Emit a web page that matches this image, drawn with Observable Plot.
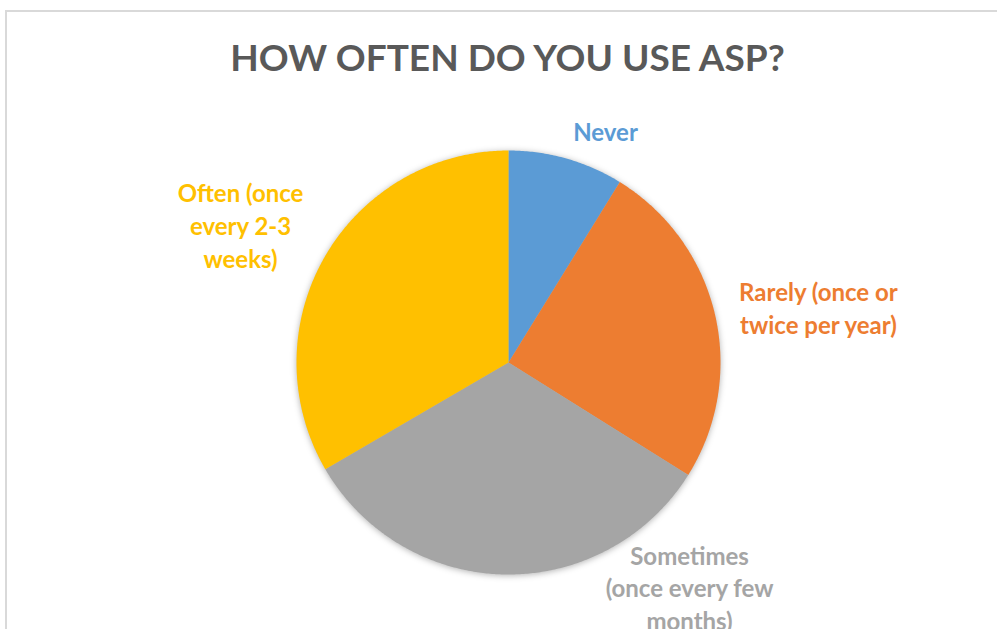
<!DOCTYPE html>
<html><head><meta charset="utf-8">
<script src="https://cdn.jsdelivr.net/npm/d3@7"></script>
<script src="https://cdn.jsdelivr.net/npm/@observablehq/plot@0.6"></script>
<style>
html,body{margin:0;padding:0;background:#fff;width:997px;height:629px;overflow:hidden;}
#chart{position:absolute;left:0;top:0;}
#frame{position:absolute;left:5px;top:10px;width:1100px;height:700px;border-top:2px solid #d9d9d9;border-left:2px solid #d9d9d9;pointer-events:none;}
#title{position:absolute;left:0;top:38px;width:1015px;text-align:center;font-family:Lato,sans-serif;font-weight:bold;font-size:37px;line-height:1;color:#595959;white-space:nowrap;}
#chart g[aria-label="line"]{filter:drop-shadow(0px 1px 3px rgba(0,0,0,0.3));}
</style>
</head><body>
<div id="chart"></div>
<div id="frame"></div>
<div id="title">HOW OFTEN DO YOU USE ASP?</div>
<script>
// ---- data ----
const categories = ["Never", "Rarely", "Sometimes", "Often"];
const values = [8.8, 25.1, 32.7, 33.4];
const labels = ["Never", "Rarely (once or\ntwice per year)", "Sometimes\n(once every few\nmonths)", "Often (once\nevery 2-3\nweeks)"];
const colors = ["#5B9BD5", "#ED7D31", "#A5A5A5", "#FFC000"];

// ---- layout (pixels / label placement in radius units) ----
const W = 997, H = 629, CX = 508, CY = 362, R = 212;
const labelAngle = [22.7, 79.9, 141.1, 297.2];   // degrees clockwise from 12 o'clock
const labelRadius = [1.186, 1.485, 1.360, 1.421]; // multiples of pie radius

const pie = d3.pie().sort(null).value(d => d)(values);
const rows = [];
pie.forEach((p, i) => {
  const n = Math.max(2, Math.ceil((p.endAngle - p.startAngle) / (Math.PI / 360)));
  rows.push({cat: categories[i], x: 0, y: 0});
  for (let k = 0; k <= n; k++) {
    const a = p.startAngle + (p.endAngle - p.startAngle) * k / n;
    rows.push({cat: categories[i], x: Math.sin(a), y: Math.cos(a)});
  }
  rows.push({cat: categories[i], x: 0, y: 0});
});
const labelRows = categories.map((c, i) => {
  const a = labelAngle[i] * Math.PI / 180;
  return {cat: c, text: labels[i], x: labelRadius[i] * Math.sin(a), y: labelRadius[i] * Math.cos(a)};
});

const chart = Plot.plot({
  width: W, height: H, margin: 0,
  style: {background: "none", overflow: "visible"},
  x: {domain: [-CX / R, (W - CX) / R], axis: null},
  y: {domain: [-(H - CY) / R, CY / R], axis: null},
  color: {domain: categories, range: colors},
  marks: [
    Plot.line(rows, {x: "x", y: "y", z: "cat", fill: "cat", stroke: "none", curve: "linear"}),
    Plot.text(labelRows, {x: "x", y: "y", text: "text", fill: "cat",
      fontFamily: "Lato, sans-serif", fontWeight: "bold", fontSize: 24, lineHeight: 1.37, textAnchor: "middle"})
  ]
});
document.getElementById("chart").appendChild(chart);
</script>
</body></html>
